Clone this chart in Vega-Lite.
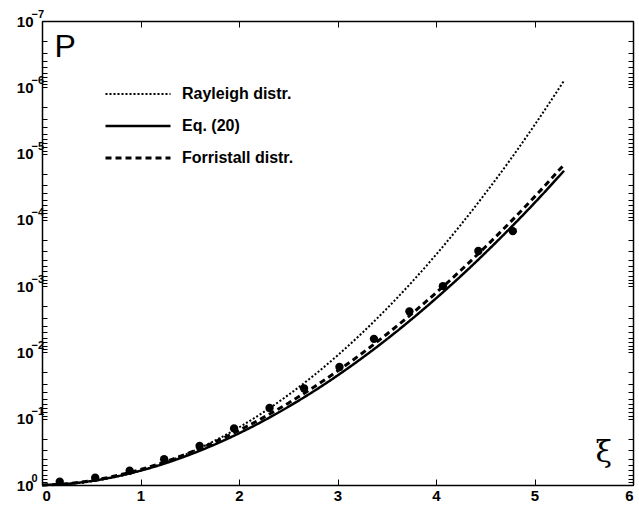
{
  "$schema": "https://vega.github.io/schema/vega-lite/v6.json",
  "width": 591,
  "height": 464,
  "autosize": "none",
  "padding": {"left": 42, "top": 21, "right": 6, "bottom": 23},
  "background": "white",
  "config": {
    "view": {"stroke": null},
    "axis": {
      "domainColor": "black",
      "domainWidth": 1.5,
      "tickColor": "black",
      "tickWidth": 1,
      "grid": false,
      "labelFont": "Liberation Sans",
      "labelFontWeight": "bold",
      "labelFontSize": 15,
      "labelColor": "black",
      "labelOverlap": false,
      "labelBound": false
    }
  },
  "datasets": {
    "curves": [
      {"series": "Rayleigh distr.", "xi": 0, "p": 1},
      {"series": "Rayleigh distr.", "xi": 0.25, "p": 0.9692},
      {"series": "Rayleigh distr.", "xi": 0.5, "p": 0.8825},
      {"series": "Rayleigh distr.", "xi": 0.75, "p": 0.7548},
      {"series": "Rayleigh distr.", "xi": 1, "p": 0.6065},
      {"series": "Rayleigh distr.", "xi": 1.25, "p": 0.4578},
      {"series": "Rayleigh distr.", "xi": 1.5, "p": 0.3247},
      {"series": "Rayleigh distr.", "xi": 1.75, "p": 0.2163},
      {"series": "Rayleigh distr.", "xi": 2, "p": 0.1353},
      {"series": "Rayleigh distr.", "xi": 2.25, "p": 0.07956},
      {"series": "Rayleigh distr.", "xi": 2.5, "p": 0.04394},
      {"series": "Rayleigh distr.", "xi": 2.75, "p": 0.0228},
      {"series": "Rayleigh distr.", "xi": 3, "p": 0.01111},
      {"series": "Rayleigh distr.", "xi": 3.25, "p": 0.005086},
      {"series": "Rayleigh distr.", "xi": 3.5, "p": 0.002187},
      {"series": "Rayleigh distr.", "xi": 3.75, "p": 0.000884},
      {"series": "Rayleigh distr.", "xi": 4, "p": 0.0003355},
      {"series": "Rayleigh distr.", "xi": 4.25, "p": 0.0001196},
      {"series": "Rayleigh distr.", "xi": 4.5, "p": 0.00004},
      {"series": "Rayleigh distr.", "xi": 4.75, "p": 0.00001262},
      {"series": "Rayleigh distr.", "xi": 5, "p": 0.000003727},
      {"series": "Rayleigh distr.", "xi": 5.3, "p": 0.000000795},
      {"series": "Eq. (20)", "xi": 0, "p": 1},
      {"series": "Eq. (20)", "xi": 0.25, "p": 0.9625},
      {"series": "Eq. (20)", "xi": 0.5, "p": 0.871},
      {"series": "Eq. (20)", "xi": 0.75, "p": 0.7466},
      {"series": "Eq. (20)", "xi": 1, "p": 0.6081},
      {"series": "Eq. (20)", "xi": 1.25, "p": 0.4716},
      {"series": "Eq. (20)", "xi": 1.5, "p": 0.3485},
      {"series": "Eq. (20)", "xi": 1.75, "p": 0.246},
      {"series": "Eq. (20)", "xi": 2, "p": 0.166},
      {"series": "Eq. (20)", "xi": 2.25, "p": 0.1072},
      {"series": "Eq. (20)", "xi": 2.5, "p": 0.0662},
      {"series": "Eq. (20)", "xi": 2.75, "p": 0.03926},
      {"series": "Eq. (20)", "xi": 3, "p": 0.02228},
      {"series": "Eq. (20)", "xi": 3.25, "p": 0.01213},
      {"series": "Eq. (20)", "xi": 3.5, "p": 0.006339},
      {"series": "Eq. (20)", "xi": 3.75, "p": 0.003177},
      {"series": "Eq. (20)", "xi": 4, "p": 0.001531},
      {"series": "Eq. (20)", "xi": 4.25, "p": 0.00071},
      {"series": "Eq. (20)", "xi": 4.5, "p": 0.0003155},
      {"series": "Eq. (20)", "xi": 4.75, "p": 0.0001349},
      {"series": "Eq. (20)", "xi": 5, "p": 0.0000556},
      {"series": "Eq. (20)", "xi": 5.3, "p": 0.00001816},
      {"series": "Forristall distr.", "xi": 0, "p": 1},
      {"series": "Forristall distr.", "xi": 0.25, "p": 0.9575},
      {"series": "Forristall distr.", "xi": 0.5, "p": 0.8582},
      {"series": "Forristall distr.", "xi": 0.75, "p": 0.7265},
      {"series": "Forristall distr.", "xi": 1, "p": 0.5837},
      {"series": "Forristall distr.", "xi": 1.25, "p": 0.4461},
      {"series": "Forristall distr.", "xi": 1.5, "p": 0.3248},
      {"series": "Forristall distr.", "xi": 1.75, "p": 0.2259},
      {"series": "Forristall distr.", "xi": 2, "p": 0.1502},
      {"series": "Forristall distr.", "xi": 2.25, "p": 0.0956},
      {"series": "Forristall distr.", "xi": 2.5, "p": 0.05826},
      {"series": "Forristall distr.", "xi": 2.75, "p": 0.03405},
      {"series": "Forristall distr.", "xi": 3, "p": 0.0191},
      {"series": "Forristall distr.", "xi": 3.25, "p": 0.01028},
      {"series": "Forristall distr.", "xi": 3.5, "p": 0.005313},
      {"series": "Forristall distr.", "xi": 3.75, "p": 0.002642},
      {"series": "Forristall distr.", "xi": 4, "p": 0.001262},
      {"series": "Forristall distr.", "xi": 4.25, "p": 0.000581},
      {"series": "Forristall distr.", "xi": 4.5, "p": 0.000257},
      {"series": "Forristall distr.", "xi": 4.75, "p": 0.0001096},
      {"series": "Forristall distr.", "xi": 5, "p": 0.000045},
      {"series": "Forristall distr.", "xi": 5.3, "p": 0.00001469}
    ],
    "obs": [
      {"xi": 0.18, "p": 0.891},
      {"xi": 0.54, "p": 0.776},
      {"xi": 0.89, "p": 0.608},
      {"xi": 1.24, "p": 0.409},
      {"xi": 1.6, "p": 0.258},
      {"xi": 1.95, "p": 0.14},
      {"xi": 2.31, "p": 0.069},
      {"xi": 2.66, "p": 0.0348},
      {"xi": 3.02, "p": 0.0166},
      {"xi": 3.37, "p": 0.00624},
      {"xi": 3.73, "p": 0.0024},
      {"xi": 4.07, "p": 0.001},
      {"xi": 4.43, "p": 0.000295},
      {"xi": 4.78, "p": 0.000148}
    ]
  },
  "layer": [
    {
      "data": {"name": "curves"},
      "mark": {"type": "line", "color": "black", "interpolate": "monotone"},
      "encoding": {
        "x": {
          "field": "xi", "type": "quantitative",
          "scale": {"domain": [0, 6], "nice": false},
          "axis": {
            "orient": "bottom", "values": [0, 1, 2, 3, 4, 5, 6], "tickSize": -6, "labelPadding": 9,
            "title": "ξ", "titleFont": "DejaVu Serif", "titleFontSize": 30, "titleFontWeight": "normal",
            "titleAngle": 0, "titleX": 553, "titleY": -24, "titleAlign": "left", "titleBaseline": "alphabetic"
          }
        },
        "y": {
          "field": "p", "type": "quantitative",
          "scale": {"type": "log", "domain": [1e-7, 1], "reverse": true, "nice": false},
          "axis": {
            "orient": "left", "offset": 0,
            "values": [1e-7, 2e-7, 3e-7, 4e-7, 5e-7, 6e-7, 7e-7, 8e-7, 9e-7, 1e-6, 2e-6, 3e-6, 4e-6, 5e-6, 6e-6, 7e-6, 8e-6, 9e-6, 1e-5, 2e-5, 3e-5, 4e-5, 5e-5, 6e-5, 7e-5, 8e-5, 9e-5, 1e-4, 2e-4, 3e-4, 4e-4, 5e-4, 6e-4, 7e-4, 8e-4, 9e-4, 0.001, 0.002, 0.003, 0.004, 0.005, 0.006, 0.007, 0.008, 0.009, 0.01, 0.02, 0.03, 0.04, 0.05, 0.06, 0.07, 0.08, 0.09, 0.1, 0.2, 0.3, 0.4, 0.5, 0.6, 0.7, 0.8, 0.9, 1],
            "tickSize": -5, "labelPadding": 14,
            "labelExpr": "abs(log(datum.value)/LN10 - round(log(datum.value)/LN10)) < 0.001 ? '10' : ''",
            "title": "P", "titleFont": "Liberation Sans", "titleFontSize": 32, "titleFontWeight": "normal",
            "titleAngle": 0, "titleX": 12, "titleY": 35, "titleAlign": "left", "titleBaseline": "alphabetic"
          }
        },
        "strokeDash": {
          "field": "series", "type": "nominal",
          "scale": {"domain": ["Rayleigh distr.", "Eq. (20)", "Forristall distr."], "range": [[2, 2], [1, 0], [6, 4]]},
          "legend": {
            "title": null, "orient": "none", "legendX": 88, "legendY": 65,
            "symbolType": "M-6.5,0H6.5", "symbolSize": 100, "symbolStrokeColor": "black",
            "labelFont": "Liberation Sans", "labelFontWeight": "bold", "labelFontSize": 16, "labelColor": "black",
            "labelOffset": 36, "rowPadding": 16
          }
        },
        "strokeWidth": {
          "field": "series", "type": "nominal",
          "scale": {"domain": ["Rayleigh distr.", "Eq. (20)", "Forristall distr."], "range": [2, 3, 2.5]},
          "legend": {
            "title": null, "orient": "none", "legendX": 88, "legendY": 65,
            "symbolType": "M-6.5,0H6.5", "symbolSize": 100, "symbolStrokeColor": "black",
            "labelFont": "Liberation Sans", "labelFontWeight": "bold", "labelFontSize": 16, "labelColor": "black",
            "labelOffset": 36, "rowPadding": 16
          }
        }
      }
    },
    {
      "data": {"name": "obs"},
      "mark": {"type": "point", "filled": true, "color": "black", "size": 70, "opacity": 1},
      "encoding": {
        "x": {
          "field": "xi", "type": "quantitative",
          "scale": {"domain": [0, 6], "nice": false},
          "axis": {"orient": "top", "values": [0, 1, 2, 3, 4, 5, 6], "tickSize": -6, "labels": false, "title": null}
        },
        "y": {
          "field": "p", "type": "quantitative",
          "scale": {"type": "log", "domain": [1e-7, 1], "reverse": true, "nice": false},
          "axis": {
            "orient": "right",
            "values": [1e-7, 2e-7, 3e-7, 4e-7, 5e-7, 6e-7, 7e-7, 8e-7, 9e-7, 1e-6, 2e-6, 3e-6, 4e-6, 5e-6, 6e-6, 7e-6, 8e-6, 9e-6, 1e-5, 2e-5, 3e-5, 4e-5, 5e-5, 6e-5, 7e-5, 8e-5, 9e-5, 1e-4, 2e-4, 3e-4, 4e-4, 5e-4, 6e-4, 7e-4, 8e-4, 9e-4, 0.001, 0.002, 0.003, 0.004, 0.005, 0.006, 0.007, 0.008, 0.009, 0.01, 0.02, 0.03, 0.04, 0.05, 0.06, 0.07, 0.08, 0.09, 0.1, 0.2, 0.3, 0.4, 0.5, 0.6, 0.7, 0.8, 0.9, 1],
            "tickSize": -5, "labels": false, "title": null
          }
        }
      }
    },
    {
      "data": {"name": "obs"},
      "mark": {"type": "point", "opacity": 0},
      "encoding": {
        "x": {
          "field": "xi", "type": "quantitative",
          "scale": {"domain": [0, 6], "nice": false},
          "axis": null
        },
        "y": {
          "field": "p", "type": "quantitative",
          "scale": {"type": "log", "domain": [1e-7, 1], "reverse": true, "nice": false},
          "axis": {
            "orient": "left", "offset": 0, "domain": false, "ticks": false,
            "values": [1e-7, 1e-6, 1e-5, 1e-4, 0.001, 0.01, 0.1, 1],
            "labelPadding": 11, "labelAlign": "left", "labelOffset": -7, "labelFontSize": 11,
            "labelExpr": "['0','−1','−2','−3','−4','−5','−6','−7'][-round(log(datum.value)/LN10)]",
            "title": null
          }
        }
      }
    }
  ],
  "resolve": {"axis": {"x": "independent", "y": "independent"}}
}
